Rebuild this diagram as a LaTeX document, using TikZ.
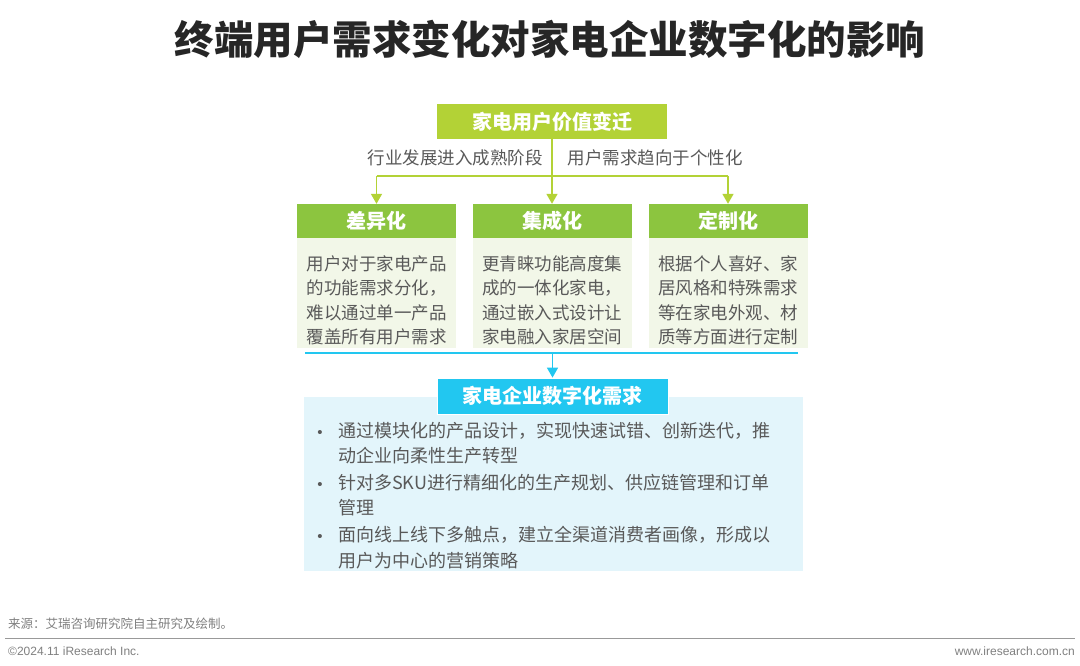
\documentclass[tikz,border=0pt]{standalone}
\usepackage{fontspec}
\setmainfont{Liberation Sans}
\newfontfamily\cjk{Noto Sans CJK SC}
\usetikzlibrary{arrows.meta}
\definecolor{lime}{HTML}{B3D236}
\definecolor{hgreen}{HTML}{8CC53F}
\definecolor{bodygreen}{HTML}{F2F7E8}
\definecolor{lblue}{HTML}{E3F5FB}
\definecolor{hblue}{HTML}{22C7F0}
\definecolor{txtgray}{HTML}{595959}
\definecolor{titlecol}{HTML}{262626}
\tikzset{
  topbox/.style={fill=lime, text=white, font=\cjk\bfseries\fontsize{20}{24}\selectfont, minimum width=230, minimum height=35, inner sep=0},
  headbox/.style={fill=hgreen, text=white, font=\cjk\bfseries\fontsize{20}{24}\selectfont, minimum width=159, minimum height=34, inner sep=0},
  bodybox/.style={fill=bodygreen, minimum width=159, minimum height=110, inner sep=0, anchor=north},
  bodytext/.style={text=txtgray, font=\cjk\fontsize{17.5}{24.5}\selectfont, inner sep=0, align=left},
  bluehead/.style={fill=hblue, text=white, font=\cjk\bfseries\fontsize{20}{24}\selectfont, minimum width=231, minimum height=36, inner sep=0},
  lbl/.style={text=txtgray, font=\cjk\fontsize{17.5}{22}\selectfont, inner sep=0},
  bul/.style={text=txtgray, font=\cjk\fontsize{18}{25.5}\selectfont, inner sep=0, anchor=north west, align=left},
  dot/.style={text=txtgray, font=\fontsize{15}{16}\selectfont, inner sep=0},
  garrow/.style={draw=lime, line width=1.5, -{Triangle[width=11,length=10]}},
  foot/.style={text=gray, inner sep=0, font=\fontsize{12}{14}\selectfont}
}
\begin{document}
\begin{tikzpicture}[x=1pt,y=-1pt]
\useasboundingbox[fill=white] (0,0) rectangle (1080,666);
% title
\node[text=titlecol, font=\cjk\bfseries\fontsize{39.5}{44}\selectfont, inner sep=0] (title) at (550,39) {终端用户需求变化对家电企业数字化的影响};
% top box
\node[topbox] (top) at (552,121.5) {家电用户价值变迁};
\node[lbl] (l1) at (455,158) {行业发展进入成熟阶段};
\node[lbl] (l2) at (655,158) {用户需求趋向于个性化};
% header boxes
\node[headbox] (h1) at (376.5,221) {差异化};
\node[headbox] (h2) at (552,221) {集成化};
\node[headbox] (h3) at (728,221) {定制化};
% body boxes
\node[bodybox] (b1) at (376.5,238) {};
\node[bodybox] (b2) at (552,238) {};
\node[bodybox] (b3) at (728,238) {};
\node[bodytext] (b1t) at ([yshift=-7]b1.center) {用户对于家电产品\\的功能需求分化，\\难以通过单一产品\\覆盖所有用户需求};
\node[bodytext] (b2t) at ([yshift=-7]b2.center) {更青睐功能高度集\\成的一体化家电，\\通过嵌入式设计让\\家电融入家居空间};
\node[bodytext] (b3t) at ([yshift=-7]b3.center) {根据个人喜好、家\\居风格和特殊需求\\等在家电外观、材\\质等方面进行定制};
% connectors from top
\coordinate (hl) at (376.5,176);
\coordinate (hr) at (728,176);
\draw[draw=lime, line width=1.5] (hl) -- (hr);
\draw[garrow] (top.south) -- (h2.north);
\draw[garrow] (hl) -- (h1.north);
\draw[garrow] (hr) -- (h3.north);
% bottom section
\node[fill=lblue, minimum width=499, minimum height=174, inner sep=0, anchor=north west] (panel) at (304,397) {};
\node[bluehead, draw=white, line width=0.8] (bh) at (552.5,396) {家电企业数字化需求};
\coordinate (bl) at (305,353);
\coordinate (br) at (798,353);
\coordinate (bm) at (552.5,353);
\draw[draw=hblue, line width=1.5] (bl) -- (br);
\draw[draw=hblue, line width=1.5, -{Triangle[width=11,length=10]}] (bm) -- (bh.north);
% bullets
\node[dot] (d1) at (320,434) {•};
\node[dot] (d2) at (320,486) {•};
\node[dot] (d3) at (320,538) {•};
\node[bul] (t1) at (338,422) {通过模块化的产品设计，实现快速试错、创新迭代，推\\动企业向柔性生产转型};
\node[bul] (t2) at (338,474) {针对多SKU进行精细化的生产规划、供应链管理和订单\\管理};
\node[bul] (t3) at (338,526) {面向线上线下多触点，建立全渠道消费者画像，形成以\\用户为中心的营销策略};
% footer
\node[foot, font=\cjk\fontsize{12.5}{14}\selectfont, anchor=west] (src) at (8,624) {来源：艾瑞咨询研究院自主研究及绘制。};
\coordinate (fl) at (5,638);
\coordinate (fr) at (1075,638);
\draw[draw=gray!80, line width=1] (fl) -- (fr);
\node[foot, anchor=west] (copy) at (8,651) {©2024.11 iResearch Inc.};
\node[foot, anchor=east] (web) at (1075,651) {www.iresearch.com.cn};
\end{tikzpicture}
\end{document}
